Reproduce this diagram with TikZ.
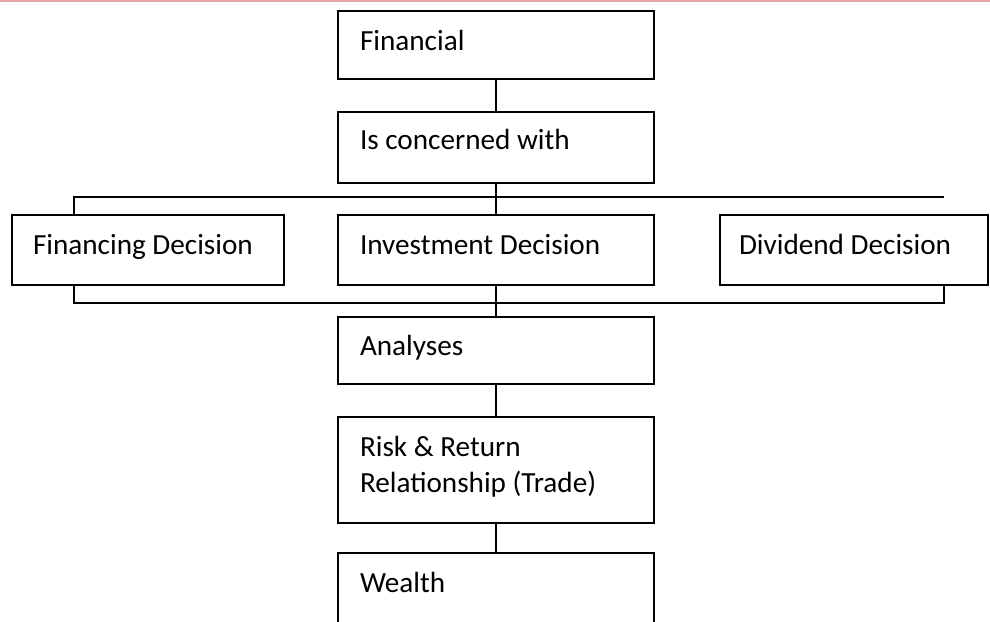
\documentclass[tikz,border=0pt]{standalone}
\usepackage{fontspec}
\setmainfont{Carlito}
\begin{document}
\begin{tikzpicture}[x=1pt,y=-1pt,
  box/.style={draw,line width=1.8pt,rectangle,inner sep=0pt,outer sep=0pt,anchor=north west},
  lbl/.style={anchor=base west,inner sep=0pt,outer sep=0pt,font=\fontsize{29.2}{36}\selectfont,align=left},
  conn/.style={line width=1.8pt}]
\clip (0,0) rectangle (990,621);
\useasboundingbox (0,0) rectangle (990,621);
\fill[white] (0,0) rectangle (990,621);
\draw[line width=2pt,draw={rgb,255:red,232;green,165;blue,165}] (0,0.8) -- (990,0.8);
% boxes
\node[box,minimum width=316pt,minimum height=68pt] (fin) at (338,11) {};
\node[box,minimum width=316pt,minimum height=71pt] (conc) at (338,112) {};
\node[box,minimum width=272pt,minimum height=70pt] (fd) at (12,215) {};
\node[box,minimum width=316pt,minimum height=70pt] (inv) at (338,215) {};
\node[box,minimum width=268pt,minimum height=70pt] (dd) at (720,215) {};
\node[box,minimum width=316pt,minimum height=67pt] (ana) at (338,317) {};
\node[box,minimum width=316pt,minimum height=106pt] (risk) at (338,417) {};
\node[box,minimum width=316pt,minimum height=90pt] (wea) at (338,553) {};
% labels
\node[lbl] (tfin) at (360,50) {Financial};
\node[lbl] (tconc) at (360,149) {Is concerned with};
\node[lbl] (tfd) at (33,254) {Financing Decision};
\node[lbl] (tinv) at (360,254) {Investment Decision};
\node[lbl] (tdd) at (739,254) {Dividend Decision};
\node[lbl] (tana) at (360,355) {Analyses};
\node[lbl] (trisk) at (360,492) {Risk \& Return\\Relationship (Trade)};
\node[lbl] (twea) at (360,592) {Wealth};
% bus coordinates
\coordinate (tl) at (74,197);
\coordinate (tr) at (944,197);
\coordinate (bl) at (74,303);
\coordinate (br) at (944,303);
% connectors
\draw[conn] (fin.south) -- (conc.north);
\draw[conn] (conc.south) -- (conc.south |- tl);
\draw[conn] (tr) -- (tl) -- (tl |- fd.north);
\draw[conn] (inv.north |- tl) -- (inv.north);
\draw[conn] (bl |- fd.south) -- (bl) -- (br) -- (br |- dd.south);
\draw[conn] (inv.south) -- (inv.south |- bl);
\draw[conn] (ana.north |- bl) -- (ana.north);
\draw[conn] (ana.south) -- (risk.north);
\draw[conn] (risk.south) -- (wea.north);
\end{tikzpicture}
\end{document}
